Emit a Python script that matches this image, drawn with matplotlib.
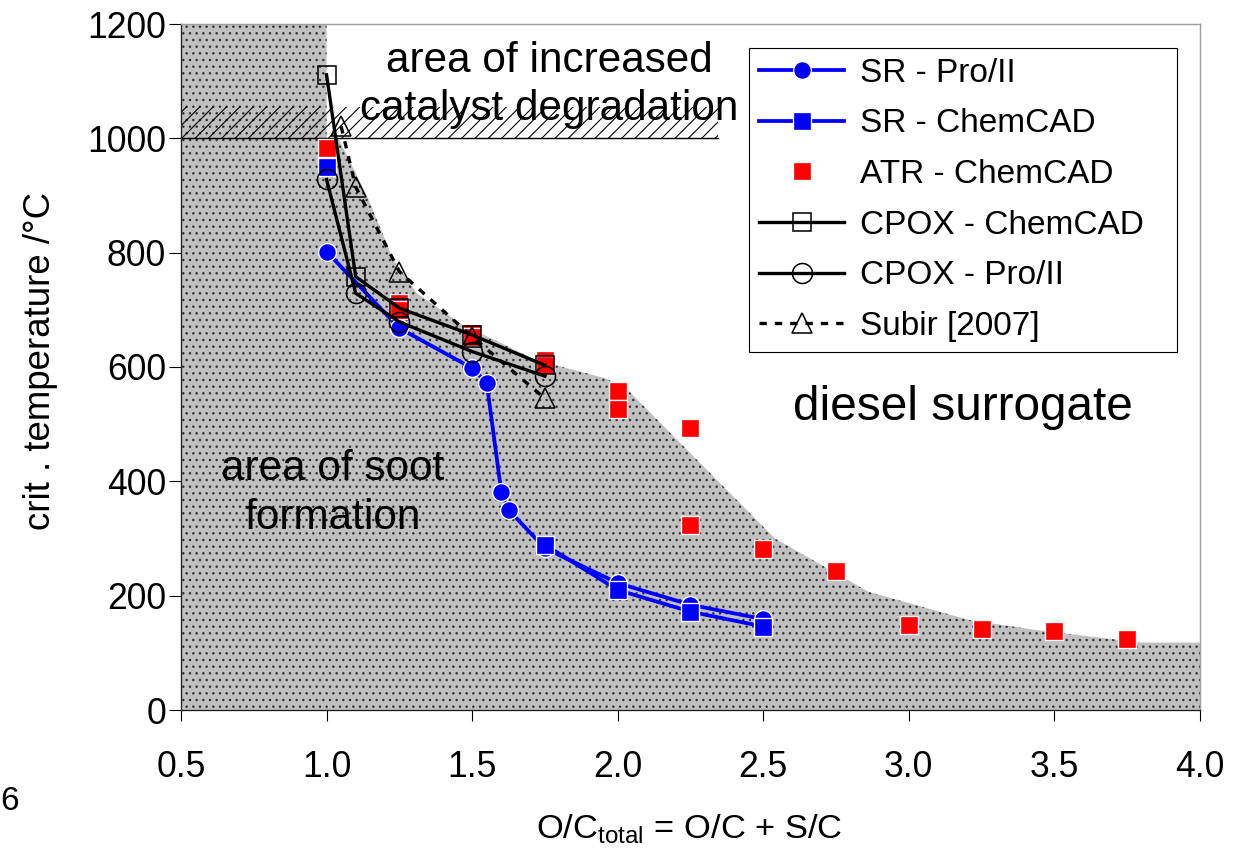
import numpy as np
import matplotlib
matplotlib.use("Agg")
import matplotlib.pyplot as plt

plt.rcParams['font.family'] = ['Liberation Sans', 'DejaVu Sans']
plt.rcParams['mathtext.fontset'] = 'custom'
plt.rcParams['mathtext.rm'] = 'Liberation Sans'
plt.rcParams['hatch.linewidth'] = 1.0

# values
sr_pro_x = [1.0, 1.25, 1.5, 1.55, 1.6, 1.625, 1.75, 2.0, 2.25, 2.5]
sr_pro_y = [802, 668, 598, 572, 382, 350, 283, 222, 184, 159]

sr_chem_x = [1.0, 1.25, 1.5, 1.75, 2.0, 2.25, 2.5]
sr_chem_y = [950, np.nan, np.nan, 289, 210, 172, 146]

atr_x = [1.0, 1.25, 1.25, 1.5, 1.5, 1.75, 1.75, 2.0, 2.0, 2.25, 2.25,
         2.5, 2.75, 3.0, 3.25, 3.5, 3.75]
atr_y = [983, 712, 700, 660, 652, 612, 603, 558, 526, 493, 324,
         282, 244, 148, 141, 138, 125]

cpox_chem_x = [1.0, 1.1, 1.25, 1.5, 1.75]
cpox_chem_y = [1111, 758, 703, 656, 603]

cpox_pro_x = [1.0, 1.1, 1.25, 1.5, 1.75]
cpox_pro_y = [928, 729, 679, 627, 584]

subir_x = [1.05, 1.1, 1.25, 1.5, 1.75]
subir_y = [1021, 915, 767, 653, 545]

# area of soot formation (grey region)
soot_x = [0.5, 0.5, 1.0, 1.0, 1.04, 1.07, 1.14, 1.23, 1.31, 1.46, 1.72,
          1.96, 2.04, 2.54, 2.86, 3.21, 3.45, 3.8, 4.0, 4.0]
soot_y = [0, 1200, 1200, 1000, 1000, 970, 898, 787, 729, 676, 612,
          580, 557, 300, 207, 157, 139, 118, 118, 0]

# area of catalyst degradation (hatched band)
degr_x = [0.5, 2.345]
degr_lo = 1000
degr_hi = 1054

xticks = [0.5, 1.0, 1.5, 2.0, 2.5, 3.0, 3.5, 4.0]
yticks = [0, 200, 400, 600, 800, 1000, 1200]

fig = plt.figure(figsize=(1256 / 80, 849 / 80), dpi=80)
ax = fig.add_axes([181 / 1256, 139 / 849, 1019 / 1256, 686 / 849])

ax.fill(soot_x, soot_y, facecolor='#c0c0c0', edgecolor='#303030',
        hatch='..', linewidth=0, zorder=1)
ax.fill_between(degr_x, degr_lo, degr_hi, facecolor='none',
                edgecolor='black', hatch='//', linewidth=0, zorder=2)
ax.plot(degr_x, [degr_lo, degr_lo], color='black', lw=1.3, zorder=2)

# series
ax.plot(sr_pro_x, sr_pro_y, color='#0000ff', lw=3.4, marker='o', ms=16,
        mfc='#0000ff', mec='white', mew=1.2, label='SR - Pro/II', zorder=3)
ax.plot(sr_chem_x, sr_chem_y, color='#0000ff', lw=3.4, marker='s', ms=16,
        mfc='#0000ff', mec='white', mew=1.2, label='SR - ChemCAD', zorder=3)
ax.plot(atr_x, atr_y, ls='none', marker='s', ms=15.5, mfc='#ff0000',
        mec='white', mew=1.2, label='ATR - ChemCAD', zorder=4)
ax.plot(cpox_chem_x, cpox_chem_y, color='black', lw=3, marker='s', ms=17,
        mfc='none', mec='black', mew=1.4, label='CPOX - ChemCAD', zorder=5)
ax.plot(cpox_pro_x, cpox_pro_y, color='black', lw=3, marker='o', ms=18,
        mfc='none', mec='black', mew=1.4, label='CPOX - Pro/II', zorder=5)
ax.plot(subir_x, subir_y, color='black', lw=3, ls=(0, (2.2, 2.4)),
        marker='^', ms=18, mfc='none', mec='black', mew=1.4,
        label='Subir [2007]', zorder=6)

# annotations
ax.text(1.765, 1116, 'area of increased', fontsize=38, ha='center',
        va='baseline', zorder=7)
ax.text(1.765, 1032, 'catalyst degradation', fontsize=38, ha='center',
        va='baseline', zorder=7)
ax.text(3.186, 507, 'diesel surrogate', fontsize=43, ha='center',
        va='baseline', zorder=7)
ax.text(1.02, 402, 'area of soot', fontsize=38, ha='center',
        va='baseline', zorder=7)
ax.text(1.02, 316, 'formation', fontsize=38, ha='center',
        va='baseline', zorder=7)

ax.set_xlim(0.5, 4.0)
ax.set_ylim(0, 1200)
ax.set_xticks(xticks)
ax.set_xticklabels([f'{v:.1f}' for v in xticks])
ax.set_yticks(yticks)
ax.set_yticklabels([str(v) for v in yticks])
ax.tick_params(axis='x', direction='out', length=9.6, width=1,
               pad=26, labelsize=32)
ax.tick_params(axis='y', direction='out', length=10.8, width=1,
               pad=2.7, labelsize=32)

for s in ['top', 'right']:
    ax.spines[s].set_color('#a0a0a0')
    ax.spines[s].set_linewidth(1.3)
for s in ['left', 'bottom']:
    ax.spines[s].set_color('#202020')
    ax.spines[s].set_linewidth(1.2)

ax.set_ylabel('crit . temperature /°C', fontsize=33)
ax.yaxis.set_label_coords(-0.121, 0.5095)
ax.set_xlabel(r'O/C$_\mathregular{total}$ = O/C + S/C', fontsize=31)
ax.xaxis.set_label_coords(0.4985, -0.1487)

leg = ax.legend(loc='upper left', bbox_to_anchor=(0.5574, 0.5208, 0.42, 0.4447),
                mode='expand', borderaxespad=0, fontsize=30, frameon=True,
                fancybox=False, framealpha=1, edgecolor='black',
                borderpad=0.3, labelspacing=0.59, handlelength=2.56,
                handletextpad=0.47, numpoints=1)
leg.get_frame().set_linewidth(1.0)
leg.set_zorder(10)

fig.text(19 / 1256, 1 - 802 / 849, '6', ha='right', va='center', fontsize=30)

fig.savefig('out.png', dpi=80)
